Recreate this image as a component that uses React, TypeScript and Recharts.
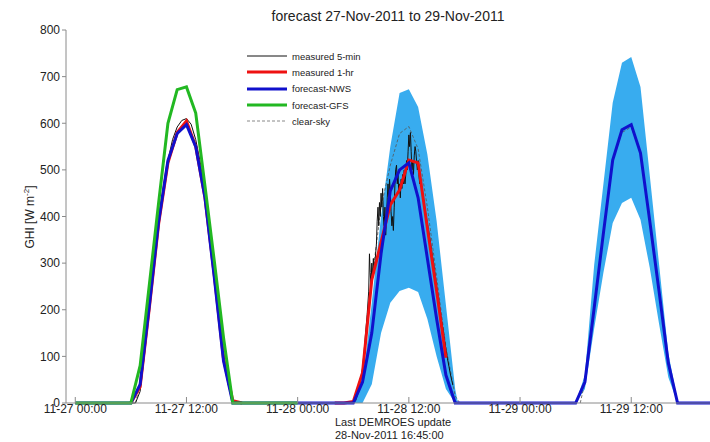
import React from 'react';
import { ComposedChart, Line, Area, XAxis, YAxis } from 'recharts';

// all times are hours counted from 27-Nov-2011 00:00
const tickHours = [0, 12, 24, 36, 48, 60];
const tickLabels = ['11-27 00:00', '11-27 12:00', '11-28 00:00', '11-28 12:00', '11-29 00:00', '11-29 12:00'];
const yTicks = [0, 100, 200, 300, 400, 500, 600, 700, 800];

// forecast-GFS
const gfsHours = [0, 6, 7, 8, 9, 10, 11, 12, 13, 14, 15, 16, 17, 24];
const gfsValues = [0, 0, 80, 255, 430, 600, 672, 678, 622, 465, 305, 140, 0, 0];

// forecast-NWS
const nwsHours = [0, 6, 7, 8, 9, 10, 11, 12, 13, 14, 15, 16, 17,
  30, 31, 32, 33, 34, 35, 36, 37, 38, 39, 40, 41,
  54, 55, 56, 57, 58, 59, 60, 61, 62, 63, 64, 65, 68.5];
const nwsValues = [0, 0, 40, 210, 390, 520, 578, 597, 550, 440, 270, 90, 0,
  0, 45, 150, 320, 455, 500, 515, 440, 310, 180, 60, 0,
  0, 45, 204, 365, 521, 586, 597, 536, 390, 240, 86, 0, 0];

// NWS uncertainty band
const band2Hours = [30, 31, 32, 33, 34, 35, 36, 37, 38, 39, 40, 41, 41.3];
const band2Low = [0, 0, 40, 150, 215, 240, 247, 238, 180, 100, 30, 0, 0];
const band2High = [0, 40, 215, 400, 550, 665, 673, 635, 533, 390, 210, 30, 0];
const band3Hours = [54, 55, 56, 57, 58, 59, 60, 61, 62, 63, 64, 65, 65.2];
const band3Low = [0, 30, 160, 280, 386, 429, 440, 393, 290, 170, 55, 0, 0];
const band3High = [0, 60, 296, 470, 644, 730, 742, 678, 488, 298, 107, 5, 0];

// measured 1-hr
const hr1aHours = [6, 7, 8, 9, 10, 11, 12, 13, 14, 15, 16, 17, 18];
const hr1aValues = [0, 35, 205, 385, 515, 580, 605, 550, 440, 275, 95, 5, 0];
const hr1bHours = [28, 29, 30, 31, 32, 33, 34, 35, 36, 37, 38, 39, 40];
const hr1bValues = [0, 0, 3, 65, 264, 345, 425, 457, 521, 515, 375, 240, 97];

// clear-sky (null splits the days)
const clearHours = [6.5, 7, 8, 9, 10, 11, 12, 13, 14, 15, 16, 17, 17.5, 18,
  30, 31, 32, 33, 34, 35, 36, 37, 38, 39, 40, 41, 41.5, 42,
  54.5, 55, 56, 57, 58, 59, 60, 61, 62, 63, 64, 65];
const clearValues = [0, 40, 210, 390, 520, 580, 600, 550, 440, 285, 105, 5, 0, null,
  0, 70, 260, 420, 510, 578, 593, 545, 420, 270, 120, 15, 0, null,
  0, 45, 204, 365, 521, 580, 592, 536, 390, 240, 86, 0];

// measured 5-min
const min5Hours = [0, 6.5, 7, 7.5, 8, 8.5, 9, 9.5, 10, 10.5, 11, 11.5, 12, 12.5, 13, 13.5, 14, 14.5, 15, 15.5, 16, 16.5, 17, 17.5,
  30, 30.25, 30.5, 30.75, 31, 31.17, 31.33, 31.5, 31.67, 31.75, 31.83, 31.92, 32, 32.08, 32.17, 32.25, 32.33, 32.5, 32.58,
  32.67, 32.75, 32.83, 32.92, 33, 33.08, 33.17, 33.25, 33.33, 33.42, 33.5, 33.58, 33.67, 33.75, 33.83, 33.92, 34, 34.08,
  34.17, 34.25, 34.33, 34.42, 34.5, 34.58, 34.67, 34.75, 34.83, 34.92, 35, 35.08, 35.17, 35.25, 35.33, 35.42, 35.5, 35.58,
  35.67, 35.75, 35.83, 35.92, 36, 36.08, 36.17, 36.25, 36.33, 36.42, 36.5, 36.58, 36.67, 36.75, 36.83, 36.92, 37, 37.08,
  37.17, 37.25, 37.33, 37.5, 37.67, 37.83, 38, 38.17, 38.33, 38.5, 38.67, 38.83, 39, 39.17, 39.33, 39.5, 39.67, 39.83,
  40, 40.17, 40.33, 40.5, 40.75];
const min5Values = [0, 0, 25, 110, 205, 300, 390, 460, 520, 565, 592, 606, 610, 598, 565, 515, 450, 375, 290, 200, 110, 40, 5, 0,
  0, 5, 20, 45, 75, 110, 150, 190, 240, 320, 280, 250, 300, 270, 310, 280, 300, 340, 390,
  420, 380, 430, 400, 450, 420, 460, 400, 380, 420, 360, 390, 440, 470, 430, 480, 450, 410,
  380, 400, 370, 420, 470, 500, 510, 470, 490, 450, 470, 440, 480, 460, 490, 470, 500, 470,
  490, 520, 500, 540, 575, 550, 580, 540, 500, 520, 490, 530, 550, 540, 520, 500, 520, 490,
  470, 480, 470, 450, 425, 405, 385, 365, 345, 320, 300, 275, 250, 228, 205, 180, 160, 138,
  115, 95, 78, 60, 38];

const zip = (hours: number[], values: (number | null)[]) => hours.map((t, i) => ({ t, v: values[i] }));
const zipBand = (hours: number[], lo: number[], hi: number[]) => hours.map((t, i) => ({ t, range: [lo[i], hi[i]] }));

const gfsData = zip(gfsHours, gfsValues);
const nwsData = zip(nwsHours, nwsValues);
const band2Data = zipBand(band2Hours, band2Low, band2High);
const band3Data = zipBand(band3Hours, band3Low, band3High);
const hr1aData = zip(hr1aHours, hr1aValues);
const hr1bData = zip(hr1bHours, hr1bValues);
const clearData = zip(clearHours, clearValues);
const min5Data = zip(min5Hours, min5Values);

const RED = '#ee1111';
const BLUE = '#1010cc';
const GREEN = '#22b822';
const BAND = '#38acef';
const AXIS = '#8a8a8a';
const FONT = '"Liberation Sans", Arial, sans-serif';

const legendItems = [
  { label: 'measured 5-min', color: '#111', width: 1, dash: '' },
  { label: 'measured 1-hr', color: RED, width: 3, dash: '' },
  { label: 'forecast-NWS', color: BLUE, width: 3, dash: '' },
  { label: 'forecast-GFS', color: GREEN, width: 3, dash: '' },
  { label: 'clear-sky', color: '#888', width: 1, dash: '3 2' },
];

export default function App() {
  const tickFmt = (h: number) => tickLabels[tickHours.indexOf(h)] ?? '';
  return (
    <div style={{ position: 'absolute', left: 0, top: 0, width: 710, height: 442, background: '#fff', fontFamily: FONT }}>
      <ComposedChart width={710} height={442} margin={{ top: 30, right: 0, bottom: 0, left: 6 }}>
        <XAxis
          type="number"
          dataKey="t"
          domain={[-1, 68.5]}
          ticks={tickHours}
          tickFormatter={tickFmt}
          allowDataOverflow
          height={39}
          stroke={AXIS}
          tickSize={-6}
          tickMargin={7}
          tick={{ fill: '#222', fontSize: 12, fontFamily: FONT }}
        />
        <YAxis
          type="number"
          domain={[0, 800]}
          ticks={yTicks}
          width={60}
          stroke={AXIS}
          tickSize={4}
          tickMargin={2}
          tick={{ fill: '#222', fontSize: 12, fontFamily: FONT }}
        />
        <Area data={band2Data} dataKey="range" stroke="none" fill={BAND} fillOpacity={1} isAnimationActive={false} />
        <Area data={band3Data} dataKey="range" stroke="none" fill={BAND} fillOpacity={1} isAnimationActive={false} />
        <Line data={clearData} dataKey="v" stroke="#555" strokeWidth={0.8} strokeDasharray="3 2" dot={false} isAnimationActive={false} />
        <Line data={min5Data} dataKey="v" stroke="#111" strokeWidth={1} dot={false} isAnimationActive={false} />
        <Line data={hr1aData} dataKey="v" stroke={RED} strokeWidth={3} dot={false} isAnimationActive={false} />
        <Line data={hr1bData} dataKey="v" stroke={RED} strokeWidth={3} dot={false} isAnimationActive={false} />
        <Line data={nwsData} dataKey="v" stroke={BLUE} strokeWidth={3} dot={false} isAnimationActive={false} />
        <Line data={gfsData} dataKey="v" stroke={GREEN} strokeWidth={3} dot={false} isAnimationActive={false} />
      </ComposedChart>

      <div style={{ position: 'absolute', left: 66, width: 644, top: 8, textAlign: 'center', fontSize: 14, color: '#222' }}>
        forecast 27-Nov-2011 to 29-Nov-2011
      </div>

      <div style={{ position: 'absolute', left: 29, top: 217, transform: 'translate(-50%, -50%) rotate(-90deg)', whiteSpace: 'nowrap', fontSize: 12, color: '#222' }}>
        GHI [W m<sup style={{ fontSize: 8 }}>-2</sup>]
      </div>

      <div style={{ position: 'absolute', left: 335, top: 416, fontSize: 11, lineHeight: '13px', color: '#222' }}>
        Last DEMROES update<br />28-Nov-2011 16:45:00
      </div>

      <div style={{ position: 'absolute', left: 247, top: 48, fontSize: 9.5, color: '#222' }}>
        {legendItems.map((it) => (
          <div key={it.label} style={{ display: 'flex', alignItems: 'center', height: 16.3 }}>
            <svg width={42} height={6} style={{ marginRight: 3 }}>
              <line x1={0} y1={3} x2={40} y2={3} stroke={it.color} strokeWidth={it.width} strokeDasharray={it.dash} />
            </svg>
            <span>{it.label}</span>
          </div>
        ))}
      </div>
    </div>
  );
}
